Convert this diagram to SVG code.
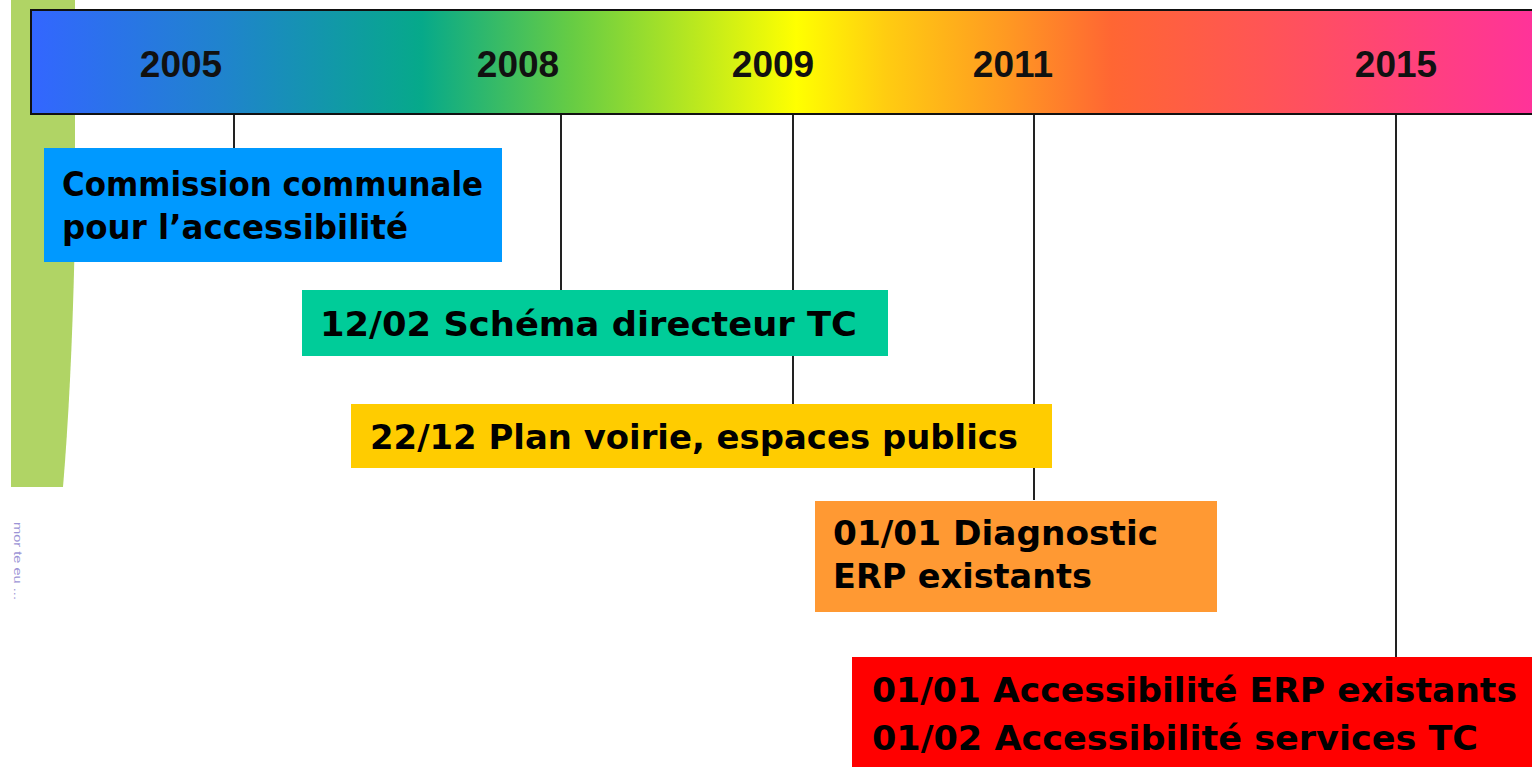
<svg xmlns="http://www.w3.org/2000/svg" width="1532" height="767" viewBox="0 0 1532 767">
<defs>
<linearGradient id="bar" x1="31" y1="0" x2="1532" y2="0" gradientUnits="userSpaceOnUse">
<stop offset="0" stop-color="#3366ff"/>
<stop offset="0.13" stop-color="#1f84cc"/>
<stop offset="0.26" stop-color="#06a98a"/>
<stop offset="0.36" stop-color="#66cc44"/>
<stop offset="0.51" stop-color="#ffff00"/>
<stop offset="0.57" stop-color="#ffcc11"/>
<stop offset="0.65" stop-color="#ff9922"/>
<stop offset="0.72" stop-color="#ff6633"/>
<stop offset="0.82" stop-color="#ff5555"/>
<stop offset="1" stop-color="#ff3399"/>
</linearGradient>
<style>
.yr{font-family:"Liberation Sans",Arial,sans-serif;font-weight:bold;font-size:37px;fill:#111;text-anchor:middle}
.lbl{font-family:"DejaVu Sans","Noto Sans",sans-serif;font-weight:bold;font-size:34px;fill:#000}
.conn{stroke:#222;stroke-width:2;fill:none}
</style>
</defs>
<g id="decor">
<path d="M11,0 L75,0 L75,230 Q72,380 63,487 L11,487 Z" fill="#b0d465"/>
<text transform="translate(14,522) rotate(90)" font-family="Liberation Sans, sans-serif" font-size="11" fill="#7a70c8" opacity="0.75" textLength="78" lengthAdjust="spacingAndGlyphs">mor te eu ...</text>
</g>
<g id="connectors">
<line class="conn" x1="234" y1="114" x2="234" y2="148"/>
<line class="conn" x1="561" y1="114" x2="561" y2="290"/>
<line class="conn" x1="793" y1="114" x2="793" y2="404"/>
<line class="conn" x1="1034" y1="114" x2="1034" y2="500"/>
<line class="conn" x1="1396" y1="114" x2="1396" y2="657"/>
</g>
<g id="timeline">
<rect x="31" y="10" width="1510" height="104" fill="url(#bar)" stroke="#111" stroke-width="2"/>
<text class="yr" x="181" y="77">2005</text>
<text class="yr" x="518" y="77">2008</text>
<text class="yr" x="773" y="77">2009</text>
<text class="yr" x="1013" y="77">2011</text>
<text class="yr" x="1396" y="77">2015</text>
</g>
<g id="node-commission">
<rect x="44" y="148" width="458" height="114" fill="#0099ff"/>
<text class="lbl" x="62" y="196" textLength="421" lengthAdjust="spacingAndGlyphs">Commission communale</text>
<text class="lbl" x="62" y="239" textLength="346" lengthAdjust="spacingAndGlyphs">pour l’accessibilité</text>
</g>
<g id="node-schema">
<rect x="302" y="290" width="586" height="66" fill="#00cc99"/>
<text class="lbl" x="320" y="336" textLength="537" lengthAdjust="spacingAndGlyphs">12/02 Schéma directeur TC</text>
</g>
<g id="node-voirie">
<rect x="351" y="404" width="701" height="64" fill="#ffcc00"/>
<text class="lbl" x="370" y="449" textLength="648" lengthAdjust="spacingAndGlyphs">22/12 Plan voirie, espaces publics</text>
</g>
<g id="node-diagnostic">
<rect x="815" y="501" width="402" height="111" fill="#ff9933"/>
<text class="lbl" x="833" y="545" textLength="325" lengthAdjust="spacingAndGlyphs">01/01 Diagnostic</text>
<text class="lbl" x="833" y="588" textLength="259" lengthAdjust="spacingAndGlyphs">ERP existants</text>
</g>
<g id="node-accessibilite">
<rect x="852" y="657" width="690" height="110" fill="#ff0000"/>
<text class="lbl" x="872" y="702" textLength="645" lengthAdjust="spacingAndGlyphs">01/01 Accessibilité ERP existants</text>
<text class="lbl" x="872" y="750" textLength="606" lengthAdjust="spacingAndGlyphs">01/02 Accessibilité services TC</text>
</g>
</svg>
